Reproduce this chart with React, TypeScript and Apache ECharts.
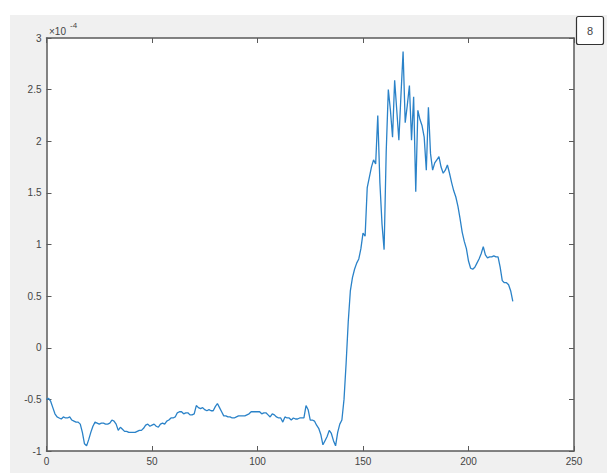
import React, { useEffect, useRef } from "react";
import * as echarts from "echarts";

// Signal samples (units of 1e-4), one per index 0..221
const signal: number[] = [
  -0.50, -0.49, -0.52, -0.58, -0.64, -0.67, -0.68, -0.69, -0.67, -0.68,
  -0.68, -0.67, -0.70, -0.71, -0.72, -0.72, -0.74, -0.82, -0.93, -0.95,
  -0.89, -0.82, -0.76, -0.72, -0.73, -0.74, -0.73, -0.73, -0.74, -0.74,
  -0.73, -0.70, -0.71, -0.74, -0.80, -0.77, -0.79, -0.81, -0.81, -0.82,
  -0.82, -0.82, -0.82, -0.81, -0.80, -0.80, -0.78, -0.75, -0.74, -0.76,
  -0.75, -0.74, -0.76, -0.77, -0.74, -0.73, -0.74, -0.71, -0.70, -0.68,
  -0.68, -0.67, -0.63, -0.62, -0.62, -0.64, -0.63, -0.63, -0.65, -0.65,
  -0.64, -0.56, -0.58, -0.59, -0.58, -0.60, -0.61, -0.60, -0.61, -0.61,
  -0.57, -0.54, -0.58, -0.62, -0.66, -0.66, -0.67, -0.67, -0.68, -0.68,
  -0.67, -0.66, -0.66, -0.66, -0.66, -0.65, -0.64, -0.62, -0.62, -0.62,
  -0.62, -0.62, -0.64, -0.63, -0.63, -0.65, -0.67, -0.64, -0.65, -0.67,
  -0.68, -0.68, -0.72, -0.67, -0.68, -0.68, -0.70, -0.68, -0.69, -0.69,
  -0.68, -0.68, -0.68, -0.56, -0.60, -0.70, -0.70, -0.71, -0.75, -0.78,
  -0.84, -0.94, -0.90, -0.86, -0.80, -0.83, -0.90, -0.95, -0.82, -0.74,
  -0.70, -0.50, -0.15, 0.25, 0.55, 0.68, 0.76, 0.82, 0.86, 0.96,
  1.11, 1.08, 1.55, 1.65, 1.75, 1.82, 1.78, 2.25, 1.60, 1.20,
  0.95, 1.90, 2.50, 2.30, 2.04, 2.59, 2.30, 2.01, 2.45, 2.87,
  2.18, 2.35, 2.54, 2.01, 2.43, 1.51, 2.30, 2.21, 2.15, 2.04,
  1.72, 2.33, 1.88, 1.72, 1.79, 1.82, 1.85, 1.75, 1.69, 1.72,
  1.77, 1.69, 1.60, 1.52, 1.46, 1.37, 1.25, 1.12, 1.03, 0.96,
  0.84, 0.77, 0.76, 0.78, 0.82, 0.86, 0.91, 0.98, 0.90, 0.87,
  0.88, 0.88, 0.89, 0.88, 0.88, 0.78, 0.65, 0.63, 0.63, 0.61,
  0.55, 0.45,
];

const xRange = { min: 0, max: 250, step: 50 };
const yRange = { min: -1, max: 3, step: 0.5 };
const exponentBase = "×10";
const exponentPower = "-4";
const panelTag = "8";

const AXIS_COLOR = "#5a5a5a";
const TEXT_COLOR = "#444444";
const FONT = "'Liberation Sans', Arial, Helvetica, sans-serif";

export default function App() {
  const ref = useRef<HTMLDivElement>(null);

  useEffect(() => {
    if (!ref.current) return;
    const chart = echarts.init(ref.current, undefined, { renderer: "svg" });

    const points = signal.map((v, i) => [i, v]);

    const baseAxis = {
      type: "value" as const,
      axisLine: { show: true, onZero: false, lineStyle: { color: AXIS_COLOR, width: 1.5 } },
      axisTick: { show: true, inside: true, length: 5, lineStyle: { color: AXIS_COLOR, width: 1 } },
      splitLine: { show: false },
    };

    chart.setOption({
      animation: false,
      backgroundColor: "#f0f0f0",
      grid: {
        left: 46.5,
        top: 38,
        width: 527.5,
        height: 413,
        show: true,
        backgroundColor: "#ffffff",
        borderWidth: 0,
      },
      xAxis: [
        {
          ...baseAxis,
          position: "bottom",
          min: xRange.min,
          max: xRange.max,
          interval: xRange.step,
          axisLabel: { show: true, color: TEXT_COLOR, fontSize: 10, fontFamily: FONT, margin: 5 },
        },
        {
          ...baseAxis,
          position: "top",
          min: xRange.min,
          max: xRange.max,
          interval: xRange.step,
          axisLabel: { show: false },
        },
      ],
      yAxis: [
        {
          ...baseAxis,
          position: "left",
          min: yRange.min,
          max: yRange.max,
          interval: yRange.step,
          axisLabel: { show: true, color: TEXT_COLOR, fontSize: 10, fontFamily: FONT, margin: 5 },
        },
        {
          ...baseAxis,
          position: "right",
          min: yRange.min,
          max: yRange.max,
          interval: yRange.step,
          axisLabel: { show: false },
        },
      ],
      series: [
        {
          type: "line",
          data: points,
          xAxisIndex: 0,
          yAxisIndex: 0,
          showSymbol: false,
          symbol: "none",
          lineStyle: { color: "#2a82c8", width: 1.3 },
        },
      ],
      graphic: [
        // white margins around the grey figure panel
        { type: "rect", shape: { x: 0, y: 0, width: 607, height: 15 }, style: { fill: "#ffffff" }, silent: true },
        { type: "rect", shape: { x: 0, y: 0, width: 10, height: 473 }, style: { fill: "#ffffff" }, silent: true },
        // axis exponent
        {
          type: "text",
          x: 49,
          y: 26,
          style: { text: exponentBase, fill: TEXT_COLOR, fontSize: 10, fontFamily: FONT },
          silent: true,
        },
        {
          type: "text",
          x: 70,
          y: 21,
          style: { text: exponentPower, fill: TEXT_COLOR, fontSize: 8, fontFamily: FONT },
          silent: true,
        },
        // panel tag box
        {
          type: "rect",
          shape: { x: 576.5, y: 16.5, width: 27, height: 28, r: 2 },
          style: { fill: "#ffffff", stroke: "#333333", lineWidth: 1.2 },
          silent: true,
        },
        {
          type: "text",
          x: 590,
          y: 30.5,
          style: {
            text: panelTag,
            fill: TEXT_COLOR,
            fontSize: 11,
            fontFamily: FONT,
            align: "center",
            verticalAlign: "middle",
          },
          silent: true,
        },
      ],
    });

    return () => chart.dispose();
  }, []);

  return (
    <div
      ref={ref}
      style={{ position: "fixed", left: 0, top: 0, width: 607, height: 473 }}
    />
  );
}
